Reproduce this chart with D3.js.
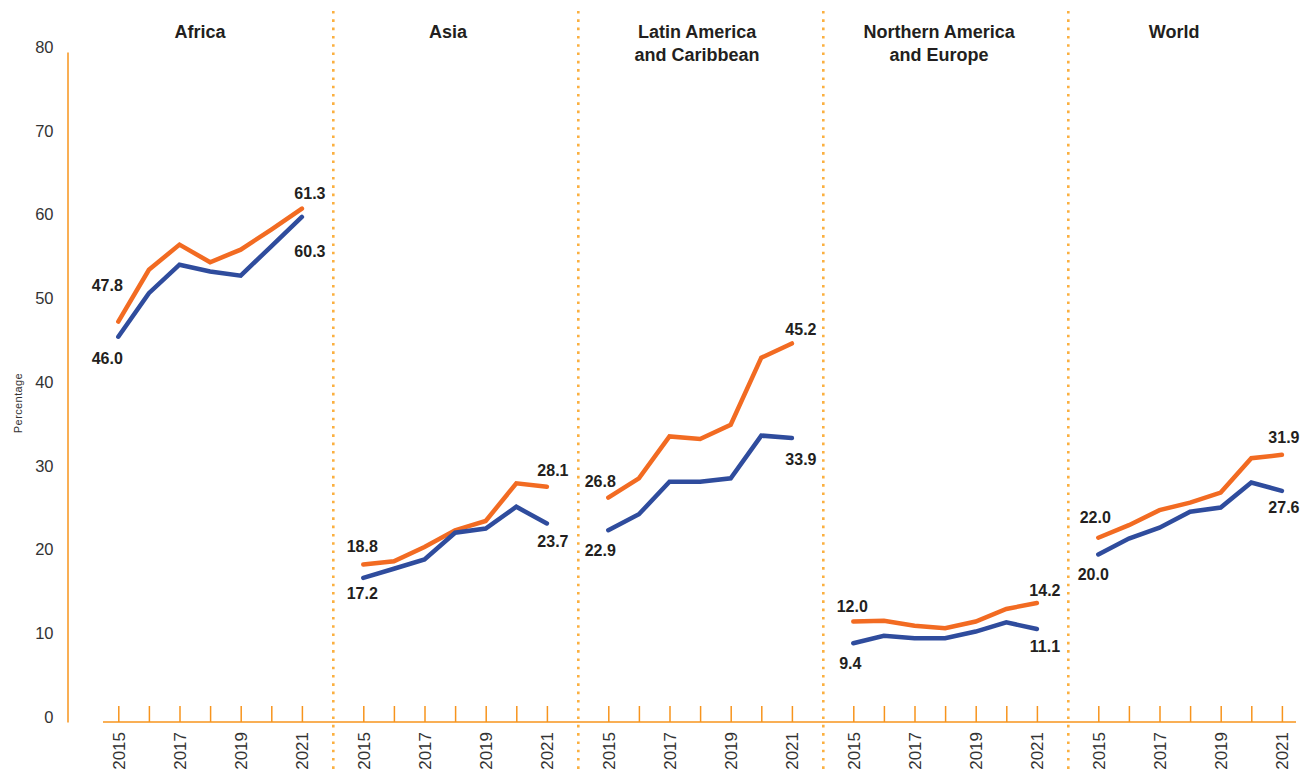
<!DOCTYPE html>
<html>
<head>
<meta charset="utf-8">
<script src="https://cdn.jsdelivr.net/npm/d3@7"></script>
<style>
  body { margin: 0; background: #fff; }
  svg text { font-family: "Liberation Sans", Arial, sans-serif; }
</style>
</head>
<body>
<div id="chart"></div>
<script>
// Data
const regions = ["Africa", "Asia", "Latin America and Caribbean", "Northern America and Europe", "World"];
const titleLines = [["Africa"], ["Asia"], ["Latin America", "and Caribbean"], ["Northern America", "and Europe"], ["World"]];
const years = [2015, 2016, 2017, 2018, 2019, 2020, 2021];
const yTicks = [0, 10, 20, 30, 40, 50, 60, 70, 80];

const orangeSeries = [
  [47.8, 54.0, 57.0, 54.9, 56.4, 58.8, 61.3],
  [18.8, 19.2, 20.9, 22.9, 24.0, 28.5, 28.1],
  [26.8, 29.1, 34.1, 33.8, 35.5, 43.5, 45.2],
  [12.0, 12.1, 11.5, 11.2, 12.0, 13.5, 14.2],
  [22.0, 23.5, 25.3, 26.2, 27.4, 31.5, 31.9]
];
const blueSeries = [
  [46.0, 51.2, 54.6, 53.8, 53.3, 56.8, 60.3],
  [17.2, 18.3, 19.4, 22.6, 23.1, 25.7, 23.7],
  [22.9, 24.8, 28.7, 28.7, 29.1, 34.2, 33.9],
  [9.4, 10.3, 10.0, 10.0, 10.8, 11.9, 11.1],
  [20.0, 21.9, 23.2, 25.1, 25.6, 28.6, 27.6]
];

// label nudges (px): [dx, dy] for start/end labels of each series
const startNudge = [
  { o: [-11, -36], b: [-11, 22] },
  { o: [-1, -18], b: [-1, 15] },
  { o: [-8, -16], b: [-8, 20] },
  { o: [-1, -15], b: [-3, 20] },
  { o: [-3, -20], b: [-5, 20] }
];
const endNudge = [
  { o: [8, -15], b: [8, 34] },
  { o: [6, -16], b: [6, 18] },
  { o: [9, -14], b: [9, 21] },
  { o: [8, -13], b: [8, 17] },
  { o: [2, -17], b: [2, 17] }
];
const titleNudge = [-10, -7, -3, -6, -16];

const w = 1303;
const h = 773;
const orange = "#F26B22";
const blue = "#2F4C9D";
const axisOrange = "#F7941D";
const dotOrange = "#FBB040";
const ink = "#231F20";

const svg = d3.select("#chart").append("svg").attr("width", w).attr("height", h);

// Scales
const y = d3.scaleLinear().domain([0, 80]).range([722, 52]);
const panelOffset = d3.scaleLinear().domain([0, 1]).range([0, 245]);
const xBase = d3.scaleLinear().domain([2015, 2021]).range([118.3, 301.9]);

// Y axis
const yAxis = svg.append("g")
  .attr("transform", "translate(67.5,0)")
  .call(d3.axisLeft(y).tickValues(yTicks).tickSize(0).tickPadding(14));
yAxis.select(".domain").attr("stroke", axisOrange).attr("stroke-width", 1.5);
yAxis.selectAll("text")
  .attr("y", -5)
  .attr("fill", "#333")
  .style("font-size", "16.5px");

svg.append("text")
  .attr("transform", "translate(18,403) rotate(-90)")
  .attr("text-anchor", "middle")
  .attr("dy", "0.35em")
  .attr("fill", "#333")
  .style("font-size", "11px")
  .style("letter-spacing", "0.4px")
  .text("Percentage");

// Continuous x baseline
svg.append("line")
  .attr("x1", 103).attr("x2", 1296)
  .attr("y1", y(0)).attr("y2", y(0))
  .attr("stroke", axisOrange).attr("stroke-width", 1.5);

const line = d3.line();

regions.forEach(function (region, i) {
  const off = panelOffset(i);
  const x = xBase.copy().range(xBase.range().map((v) => v + off));
  const g = svg.append("g").attr("class", "panel");

  // dotted separator before every panel except the first
  if (i > 0) {
    const sx = x(2015) - 30;
    g.append("line")
      .attr("x1", sx).attr("x2", sx)
      .attr("y1", 11).attr("y2", h)
      .attr("stroke", dotOrange)
      .attr("stroke-width", 2.6)
      .attr("stroke-dasharray", "2.6 5.7");
  }

  // x axis ticks + year labels
  const xAxis = g.append("g")
    .attr("transform", `translate(0,${y(0)})`)
    .call(
      d3.axisBottom(x)
        .tickValues(years)
        .tickSize(-16)
        .tickSizeOuter(0)
        .tickFormat((d) => (d % 2 === 1 ? d : ""))
    );
  xAxis.select(".domain").remove();
  xAxis.selectAll(".tick line").attr("stroke", axisOrange).attr("stroke-width", 1.5);
  xAxis.selectAll(".tick text")
    .attr("transform", "rotate(-90)")
    .attr("x", -10)
    .attr("y", 0)
    .attr("dy", "0.35em")
    .attr("text-anchor", "end")
    .attr("fill", "#333")
    .style("font-size", "17px");

  // title
  const cx = (x(2015) + x(2021)) / 2 + titleNudge[i];
  g.append("text")
    .attr("x", cx)
    .attr("y", 38)
    .attr("text-anchor", "middle")
    .attr("fill", ink)
    .style("font-size", "18px")
    .style("font-weight", "bold")
    .selectAll("tspan")
    .data(titleLines[i])
    .join("tspan")
    .attr("x", cx)
    .attr("dy", (d, j) => (j === 0 ? 0 : 22.5))
    .text((d) => d);

  // lines
  const series = [
    { key: "o", values: orangeSeries[i], color: orange },
    { key: "b", values: blueSeries[i], color: blue }
  ];
  series.forEach(function (s) {
    const pts = years.map((yr, k) => [x(yr), y(s.values[k])]);
    g.append("path")
      .attr("d", line(pts))
      .attr("fill", "none")
      .attr("stroke", s.color)
      .attr("stroke-width", 4.5)
      .attr("stroke-linecap", "round")
      .attr("stroke-linejoin", "miter");

    const first = s.values[0];
    const last = s.values[s.values.length - 1];
    const sn = startNudge[i][s.key];
    const en = endNudge[i][s.key];
    [
      { v: first, px: x(years[0]) + sn[0], py: y(first) + sn[1] },
      { v: last, px: x(years[years.length - 1]) + en[0], py: y(last) + en[1] }
    ].forEach(function (l) {
      g.append("text")
        .attr("x", l.px)
        .attr("y", l.py)
        .attr("dy", "0.35em")
        .attr("text-anchor", "middle")
        .attr("fill", ink)
        .style("font-size", "16px")
        .style("font-weight", "bold")
        .text(l.v.toFixed(1));
    });
  });
});
</script>
</body>
</html>
